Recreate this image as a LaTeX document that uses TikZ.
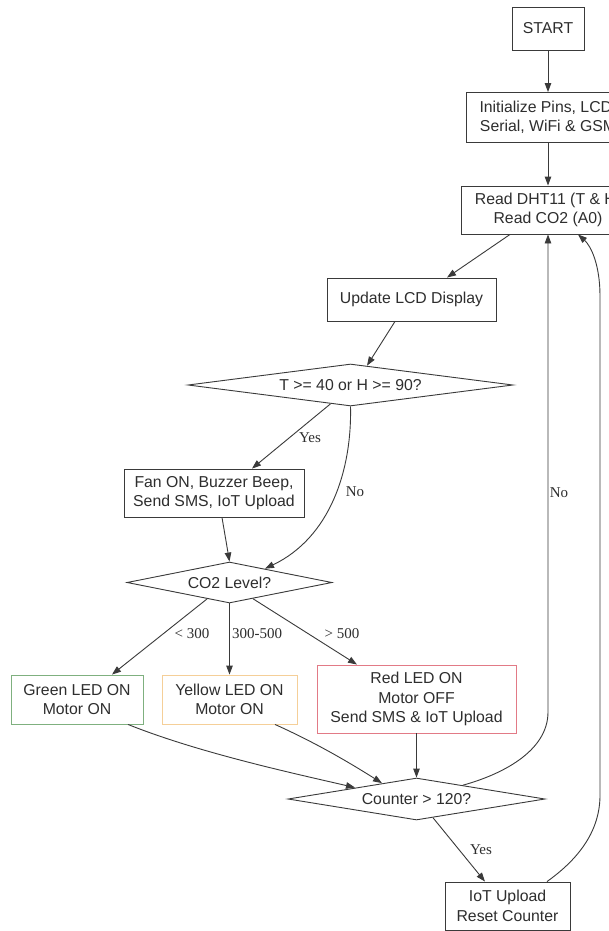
\documentclass[tikz,border=0pt]{standalone}
\usepackage{fontspec}
\setmainfont{Liberation Sans}
\newfontfamily\lblserif{Liberation Serif}
\usetikzlibrary{shapes.geometric,arrows.meta}
\definecolor{linec}{HTML}{3A3A3A}
\definecolor{textc}{HTML}{2E2E2E}
\definecolor{greenb}{HTML}{7FB07F}
\definecolor{yellowb}{HTML}{F5CF98}
\definecolor{redb}{HTML}{E27A86}
\tikzset{
  box/.style={draw=linec, line width=0.9pt, text=textc, align=center, inner sep=0pt,
    font=\fontsize{15.8}{19.5}\selectfont},
  dia/.style={diamond, draw=linec, line width=0.9pt, text=textc, inner sep=0pt,
    font=\fontsize{15.8}{19.5}\selectfont},
  arr/.style={draw=linec, line width=0.9pt, -{Triangle[length=9pt,width=6.5pt]}},
  lbl/.style={text=textc, inner sep=0pt, font=\lblserif\fontsize{15}{18}\selectfont},
}
\begin{document}
\begin{tikzpicture}[x=1pt,y=-1pt]
\useasboundingbox (0,0) rectangle (609,931);
\fill[white] (0,0) rectangle (609,931);
\clip (0,0) rectangle (609,931);

% boxes
\node[box, minimum width=72pt, minimum height=43pt] (start) at (548,28.5) {START};
\node[box, minimum width=164pt, minimum height=50pt] (init) at (548,117.5) {Initialize Pins, LCD,\\Serial, WiFi \& GSM};
\node[box, minimum width=174pt, minimum height=48pt] (read) at (548,210) {Read DHT11 (T \& H)\\Read CO2 (A0)};
\node[box, minimum width=169pt, minimum height=43pt] (lcd) at (411.5,299.5) {Update LCD Display};
\node[dia, minimum width=325pt, minimum height=42pt, shape aspect=7.74] (th) at (350.5,385) {T >= 40 or H >= 90?};
\node[box, minimum width=180pt, minimum height=48pt] (fan) at (214,493) {Fan ON, Buzzer Beep,\\Send SMS, IoT Upload};
\node[dia, minimum width=205pt, minimum height=41pt, shape aspect=5] (co2) at (229.5,582.5) {CO2 Level?};
\node[box, draw=greenb, minimum width=132pt, minimum height=49pt] (green) at (77,699.5) {Green LED ON\\Motor ON};
\node[box, draw=yellowb, minimum width=135pt, minimum height=49pt] (yellow) at (229.5,699.5) {Yellow LED ON\\Motor ON};
\node[box, draw=redb, minimum width=199pt, minimum height=68pt] (red) at (416.5,699) {Red LED ON\\Motor OFF\\Send SMS \& IoT Upload};
\node[dia, minimum width=257pt, minimum height=42pt, shape aspect=6.1] (counter) at (416.5,799) {Counter > 120?};
\node[box, minimum width=125pt, minimum height=48pt] (iot) at (507.5,906) {IoT Upload\\Reset Counter};

% labels
\node[lbl] (yes1) at (310,438) {Yes};
\node[lbl] (no1) at (355,492) {No};
\node[lbl] (l300) at (192,634) {< 300};
\node[lbl] (l300500) at (257,634) {300-500};
\node[lbl] (l500) at (342,634) {> 500};
\node[lbl] (no2) at (559,493) {No};
\node[lbl] (yes2) at (481,850) {Yes};

% bend points
\coordinate (nobend) at (548,712);
\coordinate (iotup) at (600,795);
\coordinate (iottop) at (600,296);

% connectors
\draw[arr] (start.south) -- (init.north);
\draw[arr] (init.south) -- (read.north);
\draw[arr] ([xshift=-38pt]read.south) -- ([xshift=35.5pt]lcd.north);
\draw[arr] ([xshift=-16.5pt]lcd.south) -- ([xshift=16.5pt,yshift=-2.1pt]th.north);
\draw[arr] ([xshift=-20pt,yshift=2.6pt]th.south) -- ([xshift=38pt]fan.north);
\draw[arr] (th.south) .. controls +(1.5,64) and +(65,-31) .. ([xshift=35.5pt,yshift=-7.1pt]co2.north);
\draw[arr] ([xshift=8pt]fan.south) -- (co2.north);
\draw[arr] ([xshift=-22.5pt,yshift=4.5pt]co2.south) -- ([xshift=35pt]green.north);
\draw[arr] (co2.south) -- (yellow.north);
\draw[arr] ([xshift=23.5pt,yshift=4.7pt]co2.south) -- ([xshift=-59.5pt]red.north);
\draw[arr] ([xshift=51pt]green.south) .. controls +(70,28) and +(-65,-15) .. ([xshift=-61.5pt,yshift=-10pt]counter.north);
\draw[arr] ([xshift=45.5pt]yellow.south) .. controls +(40,18) and +(-35,-22) .. ([xshift=-34.5pt,yshift=-5.6pt]counter.north);
\draw[arr] (red.south) -- (counter.north);
\draw[arr] ([xshift=46.5pt,yshift=-7.6pt]counter.north) .. controls (500,775) and (548,752) .. (nobend) -- (read.south);
\draw[arr] ([xshift=16.5pt,yshift=2.7pt]counter.south) -- ([xshift=-22.5pt]iot.north);
\draw[arr] ([xshift=39.5pt]iot.north) .. controls (580,858) and (600,830) .. (iotup) -- (iottop) .. controls (600,265) and (591,246) .. ([xshift=30pt]read.south);
\end{tikzpicture}
\end{document}
